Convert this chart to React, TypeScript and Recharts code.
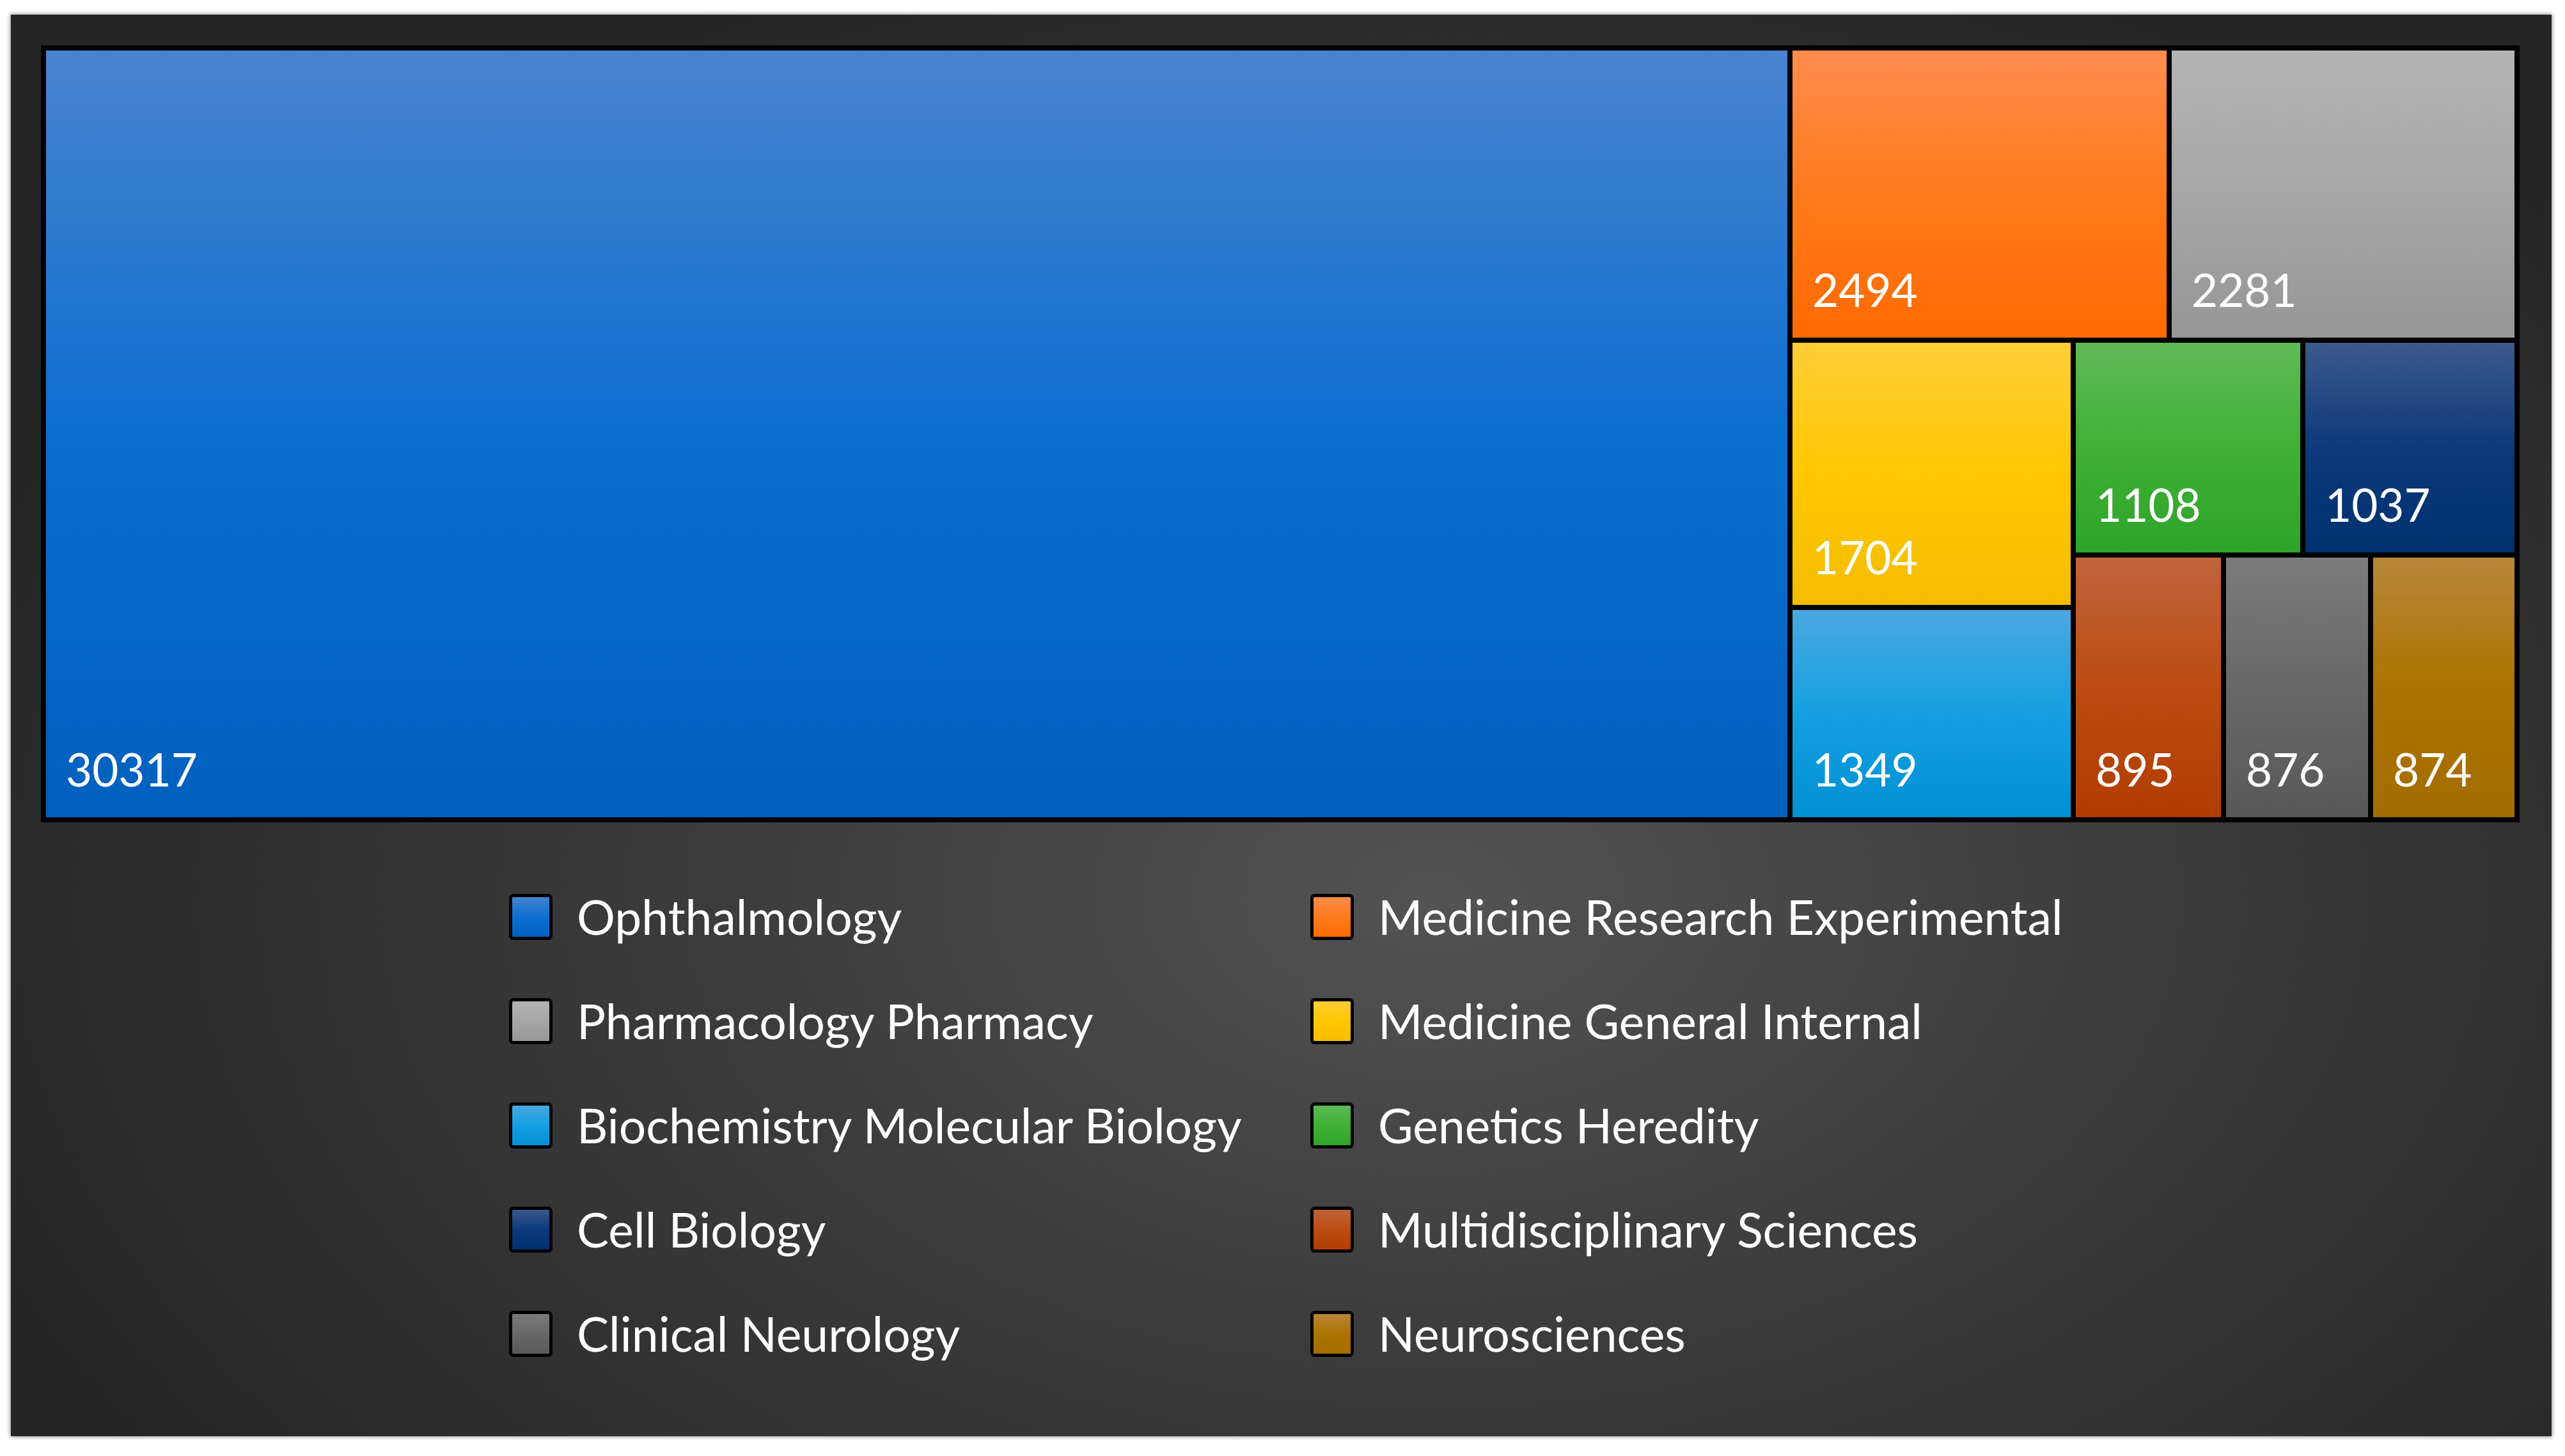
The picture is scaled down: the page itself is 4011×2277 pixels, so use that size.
import React from 'react';
import { Treemap } from 'recharts';

const categories = [
  'Ophthalmology',
  'Medicine Research Experimental',
  'Pharmacology Pharmacy',
  'Medicine General Internal',
  'Biochemistry Molecular Biology',
  'Genetics Heredity',
  'Cell Biology',
  'Multidisciplinary Sciences',
  'Clinical Neurology',
  'Neurosciences',
];
const counts = [30317, 2494, 2281, 1704, 1349, 1108, 1037, 895, 876, 874];

const topColors = ['#4a84d0', '#ff8d4e', '#b4b4b4', '#ffcd38', '#4ca8e0', '#60ba58', '#3e5a8c', '#c2643e', '#7c7c7c', '#b8873a'];
const midColors = ['#0b6fd0', '#ff7a1c', '#a6a6a6', '#ffc800', '#14a0e2', '#40b035', '#0c3a7c', '#bc4c12', '#686868', '#ad7300'];
const bottomColors = ['#0060be', '#ff6a00', '#969696', '#f4bc00', '#0090d4', '#2ea42a', '#00306e', '#b03c00', '#585858', '#a46c00'];

const data = categories.map((name, i) => ({ name, size: counts[i] }));

const FONT = 'Lato, "Open Sans", sans-serif';

const CellContent = (props: any) => {
  const { x, y, width, height, depth, index } = props;
  if (depth !== 1) return <g />;
  const value = props.value ?? props.size;
  const id = `cellGrad${index}`;
  return (
    <g>
      <defs>
        <linearGradient id={id} x1="0" y1="0" x2="0" y2="1">
          <stop offset="0%" stopColor={topColors[index]} />
          <stop offset="50%" stopColor={midColors[index]} />
          <stop offset="100%" stopColor={bottomColors[index]} />
        </linearGradient>
      </defs>
      <rect x={x} y={y} width={width} height={height} fill={`url(#${id})`} stroke="#000" strokeWidth={8} />
      <text x={x + 35} y={y + height - 52} fill="#ffffff" fontFamily={FONT} fontSize={71}>
        {value}
      </text>
    </g>
  );
};

const legendColX = [796, 2049];
const legendTextX = [902, 2155];
const legendTop = 1398;
const legendStep = 163;

export default function App() {
  return (
    <div
      style={{
        position: 'absolute',
        left: 0,
        top: 0,
        width: 4011,
        height: 2277,
        background: '#ffffff',
        overflow: 'hidden',
      }}
    >
      <style>{`.recharts-surface{overflow:visible}`}</style>
      <div
        style={{
          position: 'absolute',
          left: 17,
          top: 23,
          width: 3973,
          height: 2223,
          background:
            'radial-gradient(ellipse 62% 70% at 56% 62%, #535353 0%, #3c3c3c 45%, #252525 100%)',
          boxShadow: '0 0 6px 1px rgba(0,0,0,0.45)',
        }}
      />
      <div style={{ position: 'absolute', left: 68, top: 75 }}>
        <Treemap
          width={3868}
          height={1207}
          data={data}
          dataKey="size"
          nameKey="name"
          aspectRatio={1}
          isAnimationActive={false}
          content={<CellContent />}
        />
      </div>
      <svg
        width={4011}
        height={2277}
        style={{ position: 'absolute', left: 0, top: 0, pointerEvents: 'none' }}
      >
        <defs>
          {categories.map((_, i) => (
            <linearGradient key={i} id={`legGrad${i}`} x1="0" y1="0" x2="0" y2="1">
              <stop offset="0%" stopColor={topColors[i]} />
              <stop offset="50%" stopColor={midColors[i]} />
              <stop offset="100%" stopColor={bottomColors[i]} />
            </linearGradient>
          ))}
        </defs>
        {categories.map((name, i) => {
          const col = i % 2;
          const row = Math.floor(i / 2);
          const sx = legendColX[col];
          const sy = legendTop + row * legendStep;
          return (
            <g key={name}>
              <rect
                x={sx + 2.5}
                y={sy + 2.5}
                width={63}
                height={67}
                rx={4}
                fill={`url(#legGrad${i})`}
                stroke="#000"
                strokeWidth={5}
              />
              <text x={legendTextX[col]} y={sy + 64} fill="#ffffff" fontFamily={FONT} fontSize={75}>
                {name}
              </text>
            </g>
          );
        })}
      </svg>
    </div>
  );
}
